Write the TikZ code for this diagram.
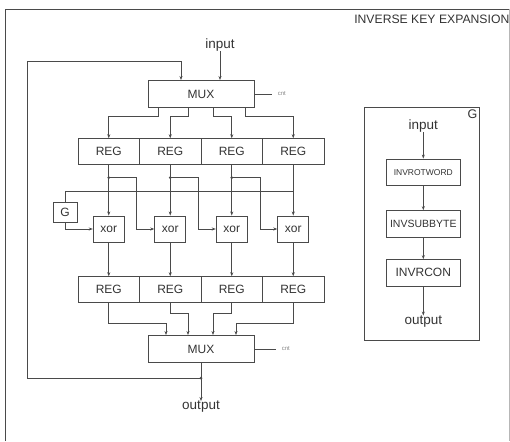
\documentclass[tikz,border=0pt]{standalone}
\usepackage{fontspec}
\setmainfont{Liberation Sans}
\usetikzlibrary{arrows.meta,calc}
\definecolor{ln}{HTML}{4A4A4A}
\definecolor{tx}{HTML}{333333}
\tikzset{
  wire/.style={draw=ln,line width=0.9pt},
  arr/.style={wire,-{Stealth[length=4pt,width=3pt]}},
  blk/.style={draw=ln,line width=0.9pt,rectangle,inner sep=0pt,text=tx,font=\fontsize{12}{14}\selectfont},
  regbox/.style={blk,minimum width=61.5pt,minimum height=25.5pt},
  xorbox/.style={blk,minimum width=31pt,minimum height=26pt},
  muxbox/.style={blk,minimum width=106pt,minimum height=27pt},
  gbox/.style={blk,minimum width=74.7pt,minimum height=26.3pt},
  lbl/.style={text=tx,inner sep=0pt,font=\fontsize{13.5}{15}\selectfont},
  cntlbl/.style={text=tx!60,inner sep=0pt,font=\fontsize{6}{7}\selectfont},
  dot/.style={circle,fill=ln,inner sep=0pt,minimum size=3pt}
}
\begin{document}
\begin{tikzpicture}[x=1pt,y=-1pt]
\useasboundingbox (0,0) rectangle (510,441);
% frame
\draw[ln,line width=0.8pt] (5,441) -- (5,9) -- (509,9);
\draw[ln!40,line width=0.8pt] (509,9) -- (509,441);
\node[anchor=east,text=tx,inner sep=0pt,font=\fontsize{12.2}{14}\selectfont] (title) at (509.5,19) {INVERSE KEY EXPANSION};

% top mux
\node[lbl] (in) at (220,45) {input};
\node[muxbox] (mux1) at (201,94) {MUX};
\draw[wire] (mux1.east) -- ++(18,0) node[cntlbl,right=5pt] (cnt1) {cnt};
\draw[arr] (in.south) -- (in.south |- mux1.north);

% REG row 1
\node[regbox] (r1) at (108.75,151.5) {REG};
\node[regbox] (r2) at (170.25,151.5) {REG};
\node[regbox] (r3) at (231.75,151.5) {REG};
\node[regbox] (r4) at (293.25,151.5) {REG};

\draw[arr] ([xshift=-43pt]mux1.south) -- ++(0,8) -| (r1.north);
\draw[arr] ([xshift=-13pt]mux1.south) -- ++(0,8) -| (r2.north);
\draw[arr] ([xshift=12pt]mux1.south) -- ++(0,8) -| (r3.north);
\draw[arr] ([xshift=44pt]mux1.south) -- ++(0,8) -| (r4.north);

% xor row
\node[xorbox] (x1) at (108.75,229) {xor};
\node[xorbox] (x2) at (170.25,229) {xor};
\node[xorbox] (x3) at (231.75,229) {xor};
\node[xorbox] (x4) at (293.25,229) {xor};
\node[blk,minimum width=24pt,minimum height=19.5pt] (g) at (65,212.5) {G};

\coordinate (d1) at ($(r1.south)+(0,13)$);
\coordinate (d2) at ($(r2.south)+(0,13)$);
\coordinate (d3) at ($(r3.south)+(0,13)$);
\coordinate (d4) at ($(r4.south)+(0,26.5)$);

\draw[arr] (r1.south) -- (x1.north);
\draw[arr] (r2.south) -- (x2.north);
\draw[arr] (r3.south) -- (x3.north);
\draw[arr] (r4.south) -- (x4.north);
\node[dot] at (d1) {};
\node[dot] at (d2) {};
\node[dot] at (d3) {};
\draw[arr] (d1) -| ([xshift=-18pt]x2.west) -- (x2.west);
\draw[arr] (d2) -| ([xshift=-17pt]x3.west) -- (x3.west);
\draw[arr] (d3) -| ([xshift=-17pt]x4.west) -- (x4.west);
\draw[wire] (d4) -| (g.north);
\draw[arr] (g.south) |- (x1.west);

% REG row 2
\node[regbox] (s1) at (108.75,289.5) {REG};
\node[regbox] (s2) at (170.25,289.5) {REG};
\node[regbox] (s3) at (231.75,289.5) {REG};
\node[regbox] (s4) at (293.25,289.5) {REG};
\draw[arr] (x1.south) -- (s1.north);
\draw[arr] (x2.south) -- (s2.north);
\draw[arr] (x3.south) -- (s3.north);
\draw[arr] (x4.south) -- (s4.north);

% bottom mux
\node[muxbox] (mux2) at (201,349) {MUX};
\draw[wire] (mux2.east) -- ++(22,0) node[cntlbl,right=5pt] (cnt2) {cnt};
\draw[arr] (s1.south) -- ++(0,21) -| ([xshift=-35pt]mux2.north);
\draw[arr] (s2.south) -- ++(0,10.5) -| ([xshift=-13pt]mux2.north);
\draw[arr] (s3.south) -- ++(0,10.5) -| ([xshift=12pt]mux2.north);
\draw[arr] (s4.south) -- ++(0,21) -| ([xshift=35pt]mux2.north);

\node[lbl] (out) at (201,407) {output};
\draw[arr] (mux2.south) -- (out.north);
\coordinate (fb) at (201,378);
\node[dot] at (fb) {};
\draw[arr] (fb) -- (27,378) -- (27,61) -| ([xshift=-20pt]mux1.north);

% G detail box
\draw[ln,line width=0.9pt] (364.3,107.3) rectangle (479.3,340);
\node[anchor=north east,text=tx,inner sep=0pt,font=\fontsize{12.5}{14}\selectfont] (glab) at (477.5,110) {G};
\node[lbl] (gin) at (423.3,126) {input};
\node[gbox,font=\fontsize{8.5}{10}\selectfont] (b1) at (423.3,172.2) {INVROTWORD};
\node[gbox,font=\fontsize{10.5}{12}\selectfont] (b2) at (423.3,223.8) {INVSUBBYTE};
\node[gbox,font=\fontsize{12}{14}\selectfont] (b3) at (423.3,272.8) {INVRCON};
\node[lbl] (gout) at (423.3,321.5) {output};
\draw[arr] (gin.south) -- (b1.north);
\draw[arr] (b1.south) -- (b2.north);
\draw[arr] (b2.south) -- (b3.north);
\draw[arr] (b3.south) -- (gout.north);
\end{tikzpicture}
\end{document}
